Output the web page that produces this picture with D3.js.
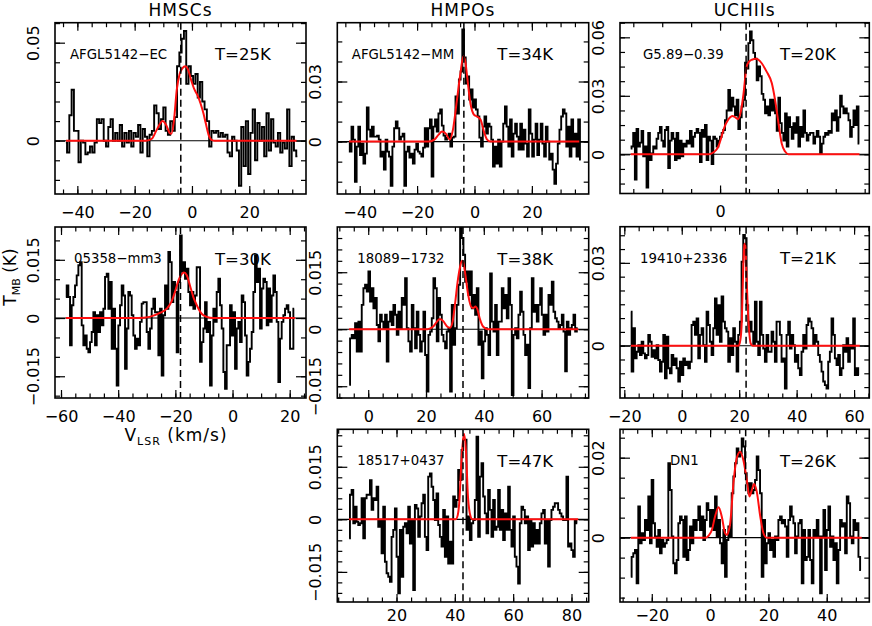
<!DOCTYPE html>
<html><head><meta charset="utf-8">
<script src="https://cdn.jsdelivr.net/npm/d3@7"></script>
<style>
body{margin:0;background:#fff}
svg{display:block;background:#fff}
text{font-family:"DejaVu Sans",sans-serif;fill:#000}
</style>
</head><body>
<svg id="c" width="872" height="626"></svg>
<script>
// ---------------- data ----------------
const groups = ["HMSCs", "HMPOs", "UCHIIs"];
const sources = ["AFGL5142\u2212EC", "AFGL5142\u2212MM", "G5.89\u22120.39", "05358\u2212mm3",
                 "18089\u22121732", "19410+2336", "18517+0437", "DN1"];
const temps = ["T=25K", "T=34K", "T=20K", "T=30K", "T=38K", "T=21K", "T=47K", "T=26K"];
const vlsr = [-3.9, -3.7, 9.0, -18.2, 32.8, 22.4, 42.8, 12.2];
// channel grid: first velocity and channel width (km/s)
const vStart = [-44.0, -43.74, -30.9, -58.3, -6.57, -17.74, 3.75, -27.2];
const vStep  = [0.8, 0.594, 0.577, 0.583, 0.577, 0.58, 0.571, 0.572];

const spec1 = [-0.001,-0.006,0.013,0.026,0.005,0.005,-0.011,0.000,-0.001,-0.007,
-0.006,-0.003,-0.006,-0.001,0.011,0.009,0.011,0.000,-0.003,0.007,
0.011,0.000,0.004,0.000,0.008,-0.003,0.004,-0.001,0.005,-0.003,
0.004,0.002,0.008,-0.006,0.006,0.002,-0.008,0.003,0.005,0.018,
0.014,0.006,0.011,0.017,0.005,0.003,0.010,0.005,0.012,0.038,
0.045,0.052,0.056,0.029,0.038,0.033,0.029,0.034,0.022,0.030,
0.020,0.016,0.010,-0.003,0.005,0.004,0.005,0.002,0.004,0.002,
0.003,-0.006,-0.008,0.002,0.000,-0.005,-0.023,0.007,-0.013,0.010,
-0.017,0.004,0.016,-0.010,0.009,0.000,0.007,-0.008,0.014,-0.005,
0.011,-0.001,-0.003,0.004,-0.006,-0.001,-0.004,0.016,-0.013,0.002,
-0.005,-0.008];
const spec2 = [0,-.005,.0075,.001,-.020,-.0025,.0075,-.0067,-.001,-.011,
-.006,.017,.006,.0025,.0075,.0025,.0025,.003,.001,-.0075,
-.005,-.014,.001,-.005,-.0075,-.022,-.0025,.0067,.010,.0067,
.001,.0025,.004,-.022,-.005,-.0025,-.008,-.006,-.011,-.004,
-.001,-.005,-.006,-.0075,-.003,.0067,-.0025,.0067,.011,-.0175,
.0075,.011,.005,.014,.016,.008,.003,.001,.002,.004,
-.0025,.002,.0025,.0225,.014,.031,.035,.056,.042,.029,
.0325,.021,.026,.017,.021,.016,.0125,.002,-.0025,.0075,
.0125,.004,.009,.0075,.001,-.0125,-.0025,-.011,.001,-.0125,
0,.009,.0175,.0075,-.0025,.011,-.0075,.004,.009,.0025,
-.004,.009,-.004,.006,-.001,-.0075,.016,.004,-.0075,.001,
.009,-.0067,.001,.009,-.001,-.0075,.0075,0,-.009,-.006,
-.014,-.021,-.011,-.001,.006,.0125,.016,.014,-.0025,.0075,
-.0075,.011,-.0025,.004,-.0075,.011,-.009];
const spec3 = [.003,.004,.011,-.013,.013,.004,.006,.012,-.001,.004,
-.017,.011,-.003,.0005,.004,.003,.008,.011,.014,.007,
.004,.0125,.014,-.007,.007,.011,.008,-.003,.011,-.002,
.007,-.001,.0055,.004,.007,.0055,.012,.004,.009,.011,
.013,.011,-.004,.0125,.009,.015,-.003,.009,.007,-.005,
.009,.008,.004,.007,.009,.011,.0125,.0175,.0225,.033,
.0225,.029,.0245,.020,.028,.013,.019,.0245,.028,.047,
.044,.057,.063,.0585,.052,.049,.038,.045,.040,.031,
.028,.021,.0245,.020,.028,.0225,.028,.021,.012,.029,
.016,.011,.007,.021,.004,.019,.014,.008,.016,.011,
.019,.004,.014,.009,.0225,.011,.007,.010,.011,.011,
.0055,.009,.012,.009,.0005,.0055,.009,.011,.010,.012,
.011,.021,.0175,.0225,.012,.019,.030,.0245,.021,.0235,
.021,.0175,.009,.014,.0225,.015,.0245,.0055];
const spec4 = [.0054,.0084,.0054,-.007,.0033,.0054,.0084,.011,.0136,.0144,
-.0019,-.007,-.0045,-.0079,-.0088,-.0062,-.0036,.0015,-.007,.0007,
-.0036,.0015,-.0019,.0024,.0106,.0114,.0024,.0093,-.0079,.0024,
-.0079,-.0174,-.0019,.0033,.0084,.0058,-.0131,-.0027,.0067,.0058,
.0007,-.0045,-.0079,-.0053,-.007,-.001,.0037,.0041,.0041,-.0036,
-.0079,-.0027,.0024,.005,.0015,.0015,-.0096,.0024,-.0148,.0007,
.0084,.0024,.017,.0144,.0041,.0093,.0067,-.0088,.0093,.0213,
.0119,.0144,.0101,.0127,.0067,.0033,.0067,.0024,.0058,.0131,
.0131,-.0113,-.0062,-.0027,.0041,-.0036,-.001,-.0174,-.0045,.0024,
-.001,.0067,.0101,.0033,-.0027,-.0139,-.0182,-.007,-.007,.0033,
-.0045,.0015,-.0131,-.0027,-.001,-.0062,.0058,.0041,-.0045,-.0148,
-.0113,-.0079,-.0036,.0067,.0162,.0093,.0127,-.0027,.0076,.0101,
.0093,-.0019,.0076,-.001,.0058,.011,.0067,-.001,-.0165,-.0053,
-.001,.0007,.0024,.0033,.0015,-.0079,-.0079,.0024];
const spec5 = [-.0146,-.0024,-.0015,-.0024,.0016,-.0059,.002,-.0059,.0064,.0108,
.0117,.0099,.0152,.0073,.0108,.0055,.0082,.0011,-.0032,.0038,
.002,.0003,.0038,-.0085,.002,.0046,.0011,.0064,.0038,-.0015,
.0046,.0003,.0082,.0064,.0134,.0003,-.0032,-.0059,.0064,.0003,
-.005,.0046,-.0015,-.0059,-.0032,.0046,-.0068,-.0164,-.0015,-.0006,
.0029,.0134,.0108,-.0032,.0082,.0038,-.0015,-.0032,-.005,-.0006,
.0003,-.0164,.0064,-.0041,.0003,.0064,.0117,.030,.024,.0196,
.0125,.0152,.009,.0152,.0055,.009,.0038,.0108,-.0041,-.0006,
-.0129,-.0032,.0003,-.0015,-.0068,.0147,.002,-.0006,.0064,-.0068,
.002,.002,.0108,.0055,.009,.0029,.0134,.0064,-.0173,-.0015,
.0003,-.0024,.0038,.0099,.0046,-.0015,-.0068,-.0041,-.0155,.0003,
.0134,.0046,.0064,.002,.0064,.0108,.0038,-.0015,.0038,-.0006,
.009,.0064,.0125,.0046,.0029,.002,.0003,.0011,.0038,-.0006,
-.0111,.002,-.0015,.0003,.0011,.0038,-.0006,.0003];
const spec6 = [.0123,-.0094,.0063,-.0046,-.0022,.0002,-.0034,.0014,-.0028,-.0046,
-.0034,.0039,.0014,-.004,-.0016,-.0046,.0002,-.0052,-.0094,-.0058,
.0039,-.0118,.0033,-.0082,-.01,-.0034,-.007,-.0046,-.0082,-.013,
-.0058,-.0106,-.0046,-.007,-.0058,-.0082,-.0058,.0075,.0087,.0039,
.0099,-.0046,.0039,.0063,.0002,-.0058,.0123,.0075,.0014,-.0034,
.0063,.0171,.0039,.0147,.0014,.0178,.0087,.0063,.0051,-.0058,
.0027,-.0034,.0063,.0014,-.0094,.0039,.0087,.0304,.0401,.0389,
.0147,.0051,.0087,.0051,.0002,.0159,.0014,-.0034,.0159,.0039,
-.001,-.0058,.0039,-.0022,-.0022,.0051,.0014,-.0058,.0087,.0087,
.0039,-.0058,-.0046,-.0155,.0039,.0087,-.001,.0039,.0002,-.0058,
-.0034,-.0082,-.0106,-.0022,.0039,-.001,.0075,.0099,.0087,.0063,
.0002,.0039,.0014,-.0034,-.0058,-.0094,-.013,-.0143,-.0155,-.0058,
-.0022,.0099,.0039,-.0046,-.007,-.0034,-.0106,-.0082,.0002,-.0022,
.0027,-.0058,.0002,-.001,.0099,-.0106,-.0082,-.0106];
const spec7 = [-.0054,.007,.0084,-.0011,.0036,-.0007,-.0016,-.0011,.006,-.0054,
.006,.007,.007,.0112,.0027,.006,.0055,.0093,-.0021,-.0002,
-.0097,.0036,-.0121,-.0154,-.0164,-.0178,-.005,-.003,.0031,-.0107,
-.0211,-.003,-.0164,-.0021,-.0011,-.004,.0036,-.0069,-.0002,-.0202,
.0041,.0031,-.005,.0008,.0046,.007,-.005,-.0088,.0122,.0131,
.0093,.0055,-.0002,.0074,-.0016,-.005,-.0078,.0027,-.0107,.0008,
-.0126,-.0064,-.0126,.0065,.0036,.0055,.0141,.0112,.0198,.0227,
.0227,-.003,.0008,-.0059,-.0011,-.0002,.0055,.0236,-.005,.0122,
.016,.0065,.0017,-.004,.0084,.0027,-.005,.0055,-.003,-.0021,
.0084,-.003,.0027,-.0059,.0017,-.003,.0093,-.003,-.0078,.0008,
-.0107,-.0135,-.0183,-.0011,.0036,.0027,-.0011,.0008,-.0088,-.0002,
-.0078,-.0011,-.0069,-.003,-.0069,-.0011,.0017,.0027,-.0069,-.0002,
-.0135,-.0002,.0027,.0036,.0046,.0046,.0027,.0017,.0008,-.0002,
-.0002,.0122,-.0078,-.0069,-.0088,-.0107,-.0002,-.0011];
const spec8 = [-.0098,-.0048,-.0039,-.0031,-.0114,.0078,-.0014,.0011,-.0006,.0044,
.0019,.0103,-.0014,.0144,.0036,.0003,-.0023,.0019,-.0039,-.0006,
-.0023,-.0014,-.0006,.0186,.0119,.0003,-.0064,-.0089,-.0056,.0036,
.0053,.0044,-.0048,.0053,-.0056,-.0031,.0028,-.0014,.0044,.0019,
.0044,.0078,.0019,.0053,-.0006,.0044,.0086,.0069,.0028,.0069,
.0019,.0103,.0003,.0044,-.0014,-.0064,.0019,-.0098,-.0006,.0028,
.0003,.0111,.0153,.0186,.0223,.0203,.0211,.0248,.0228,.0161,
.0136,.0111,.0136,.0111,.0119,.0144,.0203,.0169,.0111,-.0098,
.0044,-.0064,-.0014,.0011,-.0031,-.0006,-.0048,.0003,-.0006,.0044,
.0053,.0036,.0044,.0028,-.0048,.0044,.0078,.0053,.0036,-.0039,
.0003,.0036,.0044,-.0114,.0019,-.0056,-.0048,.0019,-.0056,-.0114,
.0019,.0003,.0044,.0003,-.0139,.0003,.0069,-.0081,.0019,.0078,
-.0023,.0003,-.0056,-.0014,-.0114,-.0031,.0044,.0028,.0036,-.0039,
.0103,.0086,.0003,-.0014,.0044,.0019,.0036,-.0048,-.0081];

// hyperfine fits as [velocity, T] points
const fit1 = [[-44,0],[-16,0],[-14,0.001],[-12.5,0.005],[-11,0.009],[-10.3,0.010],[-9,0.008],[-7.8,0.004],[-7.2,0.0035],[-6.3,0.010],[-5.3,0.026],[-4.3,0.034],[-3.3,0.037],[-2.3,0.038],[-1.3,0.036],[-0.3,0.031],[0.9,0.026],[2.0,0.023],[3.0,0.019],[4.0,0.014],[4.8,0.009],[5.8,0.003],[7,0.0003],[8,0],[36.5,0]];
const fit2 = [[-43.7,0],[-16,0],[-14,0.001],[-12.5,0.0035],[-11.3,0.005],[-10,0.004],[-8.6,0.001],[-7.5,0.006],[-6.1,0.021],[-4.9,0.034],[-3.9,0.0425],[-3.2,0.040],[-2.6,0.033],[-1.4,0.019],[-0.2,0.0135],[0.9,0.0125],[2.1,0.011],[3.3,0.005],[4.4,0.001],[5.6,0],[36.5,0]];
const fit3 = [[-30.9,0],[-4,0],[-2.9,0.0005],[-1.5,0.002],[-0.6,0.004],[0.3,0.008],[1.15,0.0125],[2.9,0.018],[4.3,0.0197],[5.2,0.019],[6.2,0.018],[7.2,0.022],[8.1,0.031],[9.2,0.045],[10,0.0475],[11.0,0.0485],[12.5,0.049],[14.4,0.0467],[16.1,0.0424],[17.9,0.0364],[19.0,0.028],[20.2,0.016],[21.3,0.0056],[22.5,0.0014],[23.6,0],[48.2,0]];
const fit4 = [[-58.3,0],[-33,0],[-29,0.0003],[-25.4,0.0013],[-23,0.0024],[-21.3,0.0043],[-20.1,0.0068],[-18.9,0.0097],[-17.8,0.0113],[-17,0.0117],[-16,0.011],[-14.9,0.0084],[-13.7,0.0054],[-12.5,0.0033],[-10.8,0.0011],[-9,0.0003],[-6.7,0],[21.9,0]];
const fit5 = [[-6.6,0],[20.5,0],[22.5,0.0007],[23.8,0.002],[24.8,0.0027],[25.9,0.0022],[27.2,0.0008],[28.3,0.0004],[29.2,0.002],[30,0.0064],[31.1,0.0134],[32.3,0.0178],[32.7,0.018],[33.4,0.0155],[34.6,0.009],[35.8,0.0057],[36.5,0.0056],[37.1,0.006],[37.8,0.0052],[38.6,0.0028],[39.5,0.001],[40.4,0.0003],[41.5,0],[72.7,0]];
const fit6 = [[-17.7,0],[19.8,0],[20.4,0.002],[20.9,0.0087],[21.4,0.028],[21.8,0.0365],[22.1,0.037],[22.3,0.033],[22.8,0.0184],[23.4,0.0063],[24,0.0008],[24.7,0],[62,0]];
const fit7 = [[3.75,0],[40.3,0],[41,0.0012],[41.5,0.0046],[42.3,0.017],[43.1,0.0244],[43.8,0.0198],[44.5,0.0065],[45.4,0.0008],[46,0],[82.3,0]];
const fit8 = [[-27.2,0],[-1.5,0],[-0.5,0.0005],[0.6,0.0019],[1.7,0.0053],[2.9,0.0076],[4,0.0053],[5.1,0.0012],[5.7,0.0007],[6.3,0.0015],[6.9,0.0036],[8,0.0136],[9.1,0.0198],[10.3,0.0215],[11.4,0.0194],[12.6,0.0144],[13.5,0.0103],[14.3,0.0119],[15.1,0.0134],[16,0.0115],[17.2,0.0053],[18.3,0.0011],[19.4,0],[52,0]];

// tick labels
const xTickLabels = [[-40,-20,0,20],[-40,-20,0,20],[0],[-60,-40,-20,0,20],[0,20,40,60],[-20,0,20,40,60],[20,40,60,80],[-20,0,20,40]];
const yTickLabels = [[0,0.05],[0,0.03],[0,0.03,0.06],[-0.015,0,0.015],[-0.015,0,0.015],[0,0.03],[-0.015,0,0.015],[0,0.02]];

const specs = [spec1,spec2,spec3,spec4,spec5,spec6,spec7,spec8];
const fits = [fit1,fit2,fit3,fit4,fit5,fit6,fit7,fit8];

// ---------------- layout ----------------
const layout = [
  {l:55,    r:306,   t:22.7,  b:194,   xd:[-47.8,39.8], yd:[-0.0272,0.0602],  xm:5,  ym:0.01,   sx:15,   pad:12.5},
  {l:337.3, r:588.7, t:22.7,  b:194,   xd:[-47.8,39.8], yd:[-0.02615,0.05935],xm:5,  ym:0.01,   sx:14.5, pad:12.5},
  {l:620,   r:869.3, t:22.7,  b:193.5, xd:[-34.6,51.6], yd:[-0.0201,0.0675],  xm:10, ym:0.0075, sx:23,   pad:12.5},
  {l:55,    r:306,   t:227,   b:398,   xd:[-62.1,25.7], yd:[-0.0206,0.02345], xm:5,  ym:0.005,  sx:19,   pad:12.5},
  {l:337.3, r:588.7, t:227,   b:398,   xd:[-10.7,76.3], yd:[-0.0181,0.0269],  xm:5,  ym:0.003,  sx:20,   pad:12.5},
  {l:620,   r:869.3, t:226.7, b:398,   xd:[-21.5,65.3], yd:[-0.01895,0.0431], xm:5,  ym:0.005,  sx:20,   pad:12.5},
  {l:337.3, r:588.7, t:429.3, b:602,   xd:[-0.3,85.9],  yd:[-0.0236,0.0257],  xm:5,  ym:0.003,  sx:20,   pad:8},
  {l:620,   r:869.3, t:429.3, b:602,   xd:[-30.9,54.6], yd:[-0.0161,0.0271],  xm:5,  ym:0.005,  sx:50,   pad:8}
];

const svg = d3.select("#c");
const fmt = d => d === 0 ? "0" : (d < 0 ? "\u2212" : "") + Math.abs(d);

function styleAxis(g, size) {
  g.attr("font-family", "DejaVu Sans, sans-serif").attr("font-size", size);
  g.select(".domain").remove();
  g.selectAll("line").attr("stroke", "#000").attr("stroke-width", 1.2);
  g.selectAll("text").attr("fill", "#000");
}

function rangeTicks(dom, step) {
  const lo = Math.ceil(dom[0] / step - 1e-9), hi = Math.floor(dom[1] / step + 1e-9);
  return d3.range(lo, hi + 1).map(k => +(k * step).toFixed(6));
}

layout.forEach((p, i) => {
  const x = d3.scaleLinear().domain(p.xd).range([p.l, p.r]);
  const y = d3.scaleLinear().domain(p.yd).range([p.b, p.t]);
  const g = svg.append("g");
  const cid = "clip" + i;
  g.append("clipPath").attr("id", cid).append("rect")
    .attr("x", p.l).attr("y", p.t).attr("width", p.r - p.l).attr("height", p.b - p.t);

  const xMajor = xTickLabels[i];
  const xMinor = rangeTicks(p.xd, p.xm);
  const yMajor = yTickLabels[i];
  const yMinor = rangeTicks(p.yd, p.ym);

  // ticks (inward, all four sides)
  styleAxis(g.append("g").attr("transform", `translate(0,${p.b})`)
    .call(d3.axisBottom(x).tickValues(xMinor).tickSizeInner(-4.5).tickSizeOuter(0).tickFormat("")), 16);
  styleAxis(g.append("g").attr("transform", `translate(0,${p.t})`)
    .call(d3.axisTop(x).tickValues(xMinor).tickSizeInner(-4.5).tickSizeOuter(0).tickFormat("")), 16);
  styleAxis(g.append("g").attr("transform", `translate(0,${p.t})`)
    .call(d3.axisTop(x).tickValues(xMajor).tickSizeInner(-8).tickSizeOuter(0).tickFormat("")), 16);
  const xb = g.append("g").attr("transform", `translate(0,${p.b})`)
    .call(d3.axisBottom(x).tickValues(xMajor).tickSizeInner(-8).tickSizeOuter(0).tickPadding(p.pad).tickFormat(fmt));
  styleAxis(xb, 16);

  styleAxis(g.append("g").attr("transform", `translate(${p.l},0)`)
    .call(d3.axisLeft(y).tickValues(yMinor).tickSizeInner(-5).tickSizeOuter(0).tickFormat("")), 16);
  styleAxis(g.append("g").attr("transform", `translate(${p.r},0)`)
    .call(d3.axisRight(y).tickValues(yMinor).tickSizeInner(-5).tickSizeOuter(0).tickFormat("")), 16);
  styleAxis(g.append("g").attr("transform", `translate(${p.r},0)`)
    .call(d3.axisRight(y).tickValues(yMajor).tickSizeInner(-10).tickSizeOuter(0).tickFormat("")), 16);
  const yl = g.append("g").attr("transform", `translate(${p.l},0)`)
    .call(d3.axisLeft(y).tickValues(yMajor).tickSizeInner(-10).tickSizeOuter(0).tickFormat(fmt));
  styleAxis(yl, 16);
  yl.selectAll("text").attr("x", 0).attr("dy", 0).attr("text-anchor", "middle")
    .attr("transform", "translate(-16,0) rotate(-90)");

  // zero line
  g.append("line").attr("x1", p.l).attr("x2", p.r).attr("y1", y(0)).attr("y2", y(0))
    .attr("stroke", "#000").attr("stroke-width", 1.1);

  // spectrum (histogram)
  const pts = specs[i].map((T, k) => [vStart[i] + k * vStep[i], T]);
  g.append("path").attr("clip-path", `url(#${cid})`)
    .attr("d", d3.line().x(d => x(d[0])).y(d => y(d[1])).curve(d3.curveStep)(pts))
    .attr("fill", "none").attr("stroke", "#000").attr("stroke-width", 1.9).attr("stroke-linejoin", "miter");

  // fit
  g.append("path").attr("clip-path", `url(#${cid})`)
    .attr("d", d3.line().x(d => x(d[0])).y(d => y(d[1])).curve(d3.curveMonotoneX)(fits[i]))
    .attr("fill", "none").attr("stroke", "#ff0f0f").attr("stroke-width", 2);

  // systemic velocity
  g.append("line").attr("x1", x(vlsr[i])).attr("x2", x(vlsr[i])).attr("y1", p.t).attr("y2", p.b)
    .attr("stroke", "#000").attr("stroke-width", 1.5).attr("stroke-dasharray", "7,4");

  // frame
  g.append("rect").attr("x", p.l).attr("y", p.t).attr("width", p.r - p.l).attr("height", p.b - p.t)
    .attr("fill", "none").attr("stroke", "#000").attr("stroke-width", 1.6);

  // labels
  g.append("text").attr("x", p.l + p.sx).attr("y", p.t + 36).attr("font-size", 13.3).text(sources[i]);
  g.append("text").attr("x", p.l + 160).attr("y", p.t + 37.5).attr("font-size", 16.5).text(temps[i]);
});

// column titles
const colCenters = [(layout[0].l + layout[0].r) / 2, (layout[1].l + layout[1].r) / 2, (layout[2].l + layout[2].r) / 2];
svg.selectAll("text.title").data(groups).enter().append("text").attr("class", "title")
  .attr("x", (d, k) => colCenters[k]).attr("y", 16).attr("text-anchor", "middle")
  .attr("font-size", 17).attr("letter-spacing", 1).text(d => d);

// axis titles
const yt = svg.append("text").attr("transform", "translate(16,277) rotate(-90)")
  .attr("text-anchor", "middle").attr("font-size", 17);
yt.append("tspan").text("T");
yt.append("tspan").attr("font-size", 11).attr("dy", 4).text("MB");
yt.append("tspan").attr("dy", -4).text(" (K)");

const xt = svg.append("text").attr("x", 176).attr("y", 441)
  .attr("text-anchor", "middle").attr("font-size", 17).attr("letter-spacing", 1);
xt.append("tspan").text("V");
xt.append("tspan").attr("font-size", 11).attr("dy", 4).text("LSR");
xt.append("tspan").attr("dy", -4).text(" (km/s)");
</script>
</body></html>
